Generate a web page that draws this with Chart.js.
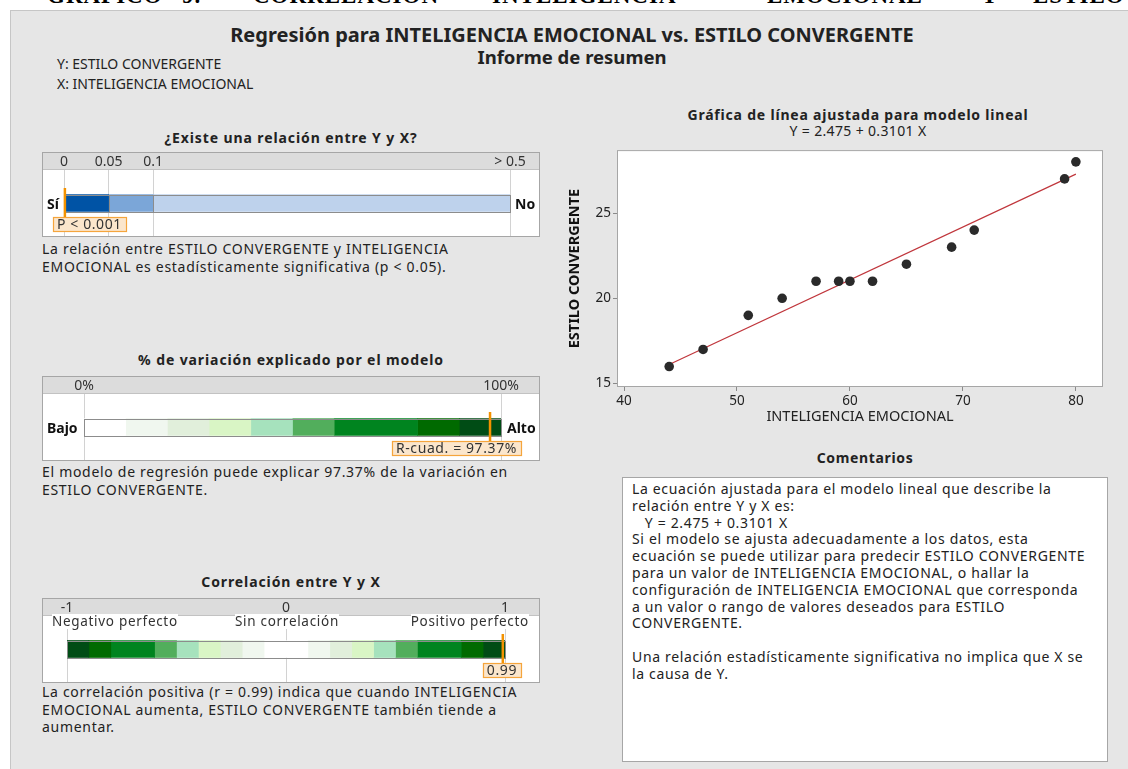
<!DOCTYPE html>
<html>
<head>
<meta charset="utf-8">
<script src="https://cdn.jsdelivr.net/npm/chart.js@4.4.1/dist/chart.umd.min.js"></script>
<style>
body { margin: 0; width: 1128px; height: 769px; overflow: hidden; background: #fff; position: relative;
       font-family: "Noto Sans", sans-serif; color: #222; }
.abs { position: absolute; white-space: nowrap; }
#panel { position: absolute; left: 10px; top: 10px; width: 1130px; height: 770px; background: #e6e6e6; border: 1px solid #c6c6c6; }
.cap { position: absolute; top: -17px; font: bold 23px "Liberation Serif", serif; letter-spacing: 1px; color: #000; }
.h { font-size: 14px; font-weight: bold; line-height: 18px; text-align: center; letter-spacing: 0.9px; }
.txt { font-size: 14px; line-height: 17.5px; color: #222; letter-spacing: 0.7px; }
.box { position: absolute; left: 42px; width: 496px; height: 83px; background: #fff; border: 1px solid #a6a6a6; }
.strip { position: absolute; left: 0; top: 0; width: 496px; height: 16px; background: #dcdcdc; border-bottom: 1px solid #c2c2c2; }
.side { font-size: 14px; font-weight: bold; line-height: 18px; color: #111; }
.lbl { font-size: 13.5px; line-height: 15px; background: #fff; color: #333; letter-spacing: 0.7px; }
canvas { position: absolute; }
#com { position: absolute; left: 622px; top: 477px; width: 484px; height: 283px; background: #fff; border: 1px solid #a6a6a6; }
#com div { position: absolute; left: 9px; top: 3px; font-size: 14px; line-height: 16.8px; white-space: pre; color: #222; letter-spacing: 0.65px; }
</style>
</head>
<body>
<span class="cap" style="left:47px">GRÁFICO</span>
<span class="cap" style="left:182px">9.</span>
<span class="cap" style="left:253px">CORRELACIÓN</span>
<span class="cap" style="left:492px">INTELIGENCIA</span>
<span class="cap" style="left:767px">EMOCIONAL</span>
<span class="cap" style="left:981px">Y</span>
<span class="cap" style="left:1033px">ESTILO</span>
<div id="panel"></div>

<div class="abs" style="left:0;width:1144px;top:23px;text-align:center;font-size:20px;font-weight:bold;line-height:24px;">Regresión para INTELIGENCIA EMOCIONAL vs. ESTILO CONVERGENTE</div>
<div class="abs" style="left:0;width:1144px;top:46px;text-align:center;font-size:18.5px;font-weight:bold;line-height:22px;">Informe de resumen</div>
<div class="abs" style="left:57px;top:54px;font-size:14px;line-height:20px;">Y: ESTILO CONVERGENTE<br>X: INTELIGENCIA EMOCIONAL</div>

<!-- ¿Existe una relación? -->
<div class="abs h" style="left:42px;width:498px;top:129px;">¿Existe una relación entre Y y X?</div>
<div class="box" style="top:152px"><div class="strip"></div></div>
<canvas id="pBar" width="496" height="83" style="left:43px;top:153px"></canvas>
<div class="abs side" style="left:47px;top:195px">Sí</div>
<div class="abs side" style="left:515px;top:195px">No</div>
<div class="abs txt" style="left:42px;top:240px">La relación entre ESTILO CONVERGENTE y INTELIGENCIA<br>EMOCIONAL es estadísticamente significativa (p &lt; 0.05).</div>

<!-- % de variación -->
<div class="abs h" style="left:42px;width:498px;top:351px;">% de variación explicado por el modelo</div>
<div class="box" style="top:376px"><div class="strip"></div></div>
<canvas id="r2Bar" width="496" height="83" style="left:43px;top:377px"></canvas>
<div class="abs side" style="left:47px;top:419px">Bajo</div>
<div class="abs side" style="left:507px;top:419px">Alto</div>
<div class="abs txt" style="left:42px;top:463px">El modelo de regresión puede explicar 97.37% de la variación en<br>ESTILO CONVERGENTE.</div>

<!-- Correlación -->
<div class="abs h" style="left:42px;width:498px;top:573px;">Correlación entre Y y X</div>
<div class="box" style="top:598px"><div class="strip"></div></div>
<canvas id="rBar" width="496" height="83" style="left:43px;top:599px"></canvas>
<div class="abs lbl" style="left:52px;top:614px">Negativo perfecto</div>
<div class="abs lbl" style="left:235px;top:614px">Sin correlación</div>
<div class="abs lbl" style="right:599px;top:614px">Positivo perfecto</div>
<div class="abs txt" style="left:42px;top:683px">La correlación positiva (r = 0.99) indica que cuando INTELIGENCIA<br>EMOCIONAL aumenta, ESTILO CONVERGENTE también tiende a<br>aumentar.</div>

<!-- gráfica de línea ajustada -->
<div class="abs h" style="left:620px;width:476px;top:106px;letter-spacing:0.8px;">Gráfica de línea ajustada para modelo lineal</div>
<div class="abs txt" style="left:620px;width:476px;top:122px;text-align:center;letter-spacing:0.35px;">Y = 2.475 + 0.3101 X</div>
<canvas id="fitChart" width="560" height="295" style="left:560px;top:140px"></canvas>

<div class="abs h" style="left:622px;width:486px;top:449px;letter-spacing:0.65px;">Comentarios</div>
<div id="com"><div>La ecuación ajustada para el modelo lineal que describe la
relación entre Y y X es:
   Y = 2.475 + 0.3101 X
Si el modelo se ajusta adecuadamente a los datos, esta
ecuación se puede utilizar para predecir ESTILO CONVERGENTE
para un valor de INTELIGENCIA EMOCIONAL, o hallar la
configuración de INTELIGENCIA EMOCIONAL que corresponda
a un valor o rango de valores deseados para ESTILO
CONVERGENTE.

Una relación estadísticamente significativa no implica que X se
la causa de Y.</div></div>

<script>
// ===== datos del gráfico de dispersión =====
const xEmocional = [44, 47, 51, 54, 57, 59, 60, 62, 65, 69, 71, 79, 80];
const yConvergente = [16, 17, 19, 20, 21, 21, 21, 21, 22, 23, 24, 27, 28];
const fitX = [44, 80];
const fitY = [16.12, 27.28];
const xTicks = [40, 50, 60, 70, 80];
const yTicks = [15, 20, 25];

// ===== valor p (escala de la barra: 0-0.05 = 1, 0.05-0.1 = 1, 0.1-0.5 = 8) =====
const pEdges = [0, 1, 2, 10];
const pColors = ['#0053a5', '#7ba6d8', '#bed2ec'];
const pTickPos = [0, 1, 2, 10];
const pTickLabels = ['0', '0.05', '0.1', '> 0.5'];
const pMarker = 0.02;
const pText = 'P < 0.001';

// ===== R cuadrado =====
const r2Edges = [0, 10, 20, 30, 40, 50, 60, 80, 90, 100];
const r2Colors = ['#ffffff', '#f0f7ef', '#e1efdb', '#d9f5c5', '#a6e2bd', '#52ae5c', '#00841f', '#006a00', '#004c15'];
const r2TickPos = [0, 100];
const r2TickLabels = ['0%', '100%'];
const r2Value = 97.37;
const r2Text = 'R-cuad. = 97.37%';

// ===== correlación =====
const rEdges = [-1, -0.9, -0.8, -0.6, -0.5, -0.4, -0.3, -0.2, -0.1, 0.1, 0.2, 0.3, 0.4, 0.5, 0.6, 0.8, 0.9, 1];
const rColors = ['#004c15', '#006a00', '#00841f', '#52ae5c', '#a6e2bd', '#d9f5c5', '#e1efdb', '#f0f7ef', '#ffffff',
                 '#f0f7ef', '#e1efdb', '#d9f5c5', '#a6e2bd', '#52ae5c', '#00841f', '#006a00', '#004c15'];
const rTickPos = [-1, 0, 1];
const rTickLabels = ['-1', '0', '1'];
const rValue = 0.99;
const rText = '0.99';

Chart.defaults.font.family = "'Noto Sans', sans-serif";
Chart.defaults.color = '#333';

// marcador naranja + contorno de la barra
function markerPlugin(value, text, segBorder) {
    return {
        id: 'marker',
        afterDatasetsDraw(chart) {
            const ctx = chart.ctx;
            const sx = chart.scales.x;
            const bar = chart.getDatasetMeta(0).data[0];
            const top = Math.round(bar.y - bar.height / 2), bot = Math.round(bar.y + bar.height / 2);
            const x0 = sx.getPixelForValue(sx.min), x1 = sx.getPixelForValue(sx.max);
            ctx.save();
            ctx.strokeStyle = '#8c8c8c';
            ctx.lineWidth = 1;
            ctx.strokeRect(Math.round(x0) + 0.5, top + 0.5, Math.round(x1 - x0), bot - top);
            if (segBorder) {
                pEdges.slice(1, -1).forEach(e => {
                    const xe = Math.round(sx.getPixelForValue(e)) + 0.5;
                    ctx.beginPath(); ctx.moveTo(xe, top); ctx.lineTo(xe, bot); ctx.stroke();
                });
            }
            const x = sx.getPixelForValue(value);
            ctx.strokeStyle = '#f39200';
            ctx.lineWidth = 2.5;
            ctx.beginPath(); ctx.moveTo(x, top - 7); ctx.lineTo(x, bot + 5); ctx.stroke();
            ctx.font = '14px "Noto Sans"';
            ctx.letterSpacing = '0.6px';
            const w = ctx.measureText(text).width + 8;
            let bx = Math.min(Math.max(x - w / 2, 10), chart.width - 18 - w);
            const by = bot + 5;
            ctx.fillStyle = '#fbe6cc';
            ctx.fillRect(bx, by, w, 15);
            ctx.strokeStyle = '#f5a53c';
            ctx.lineWidth = 1.2;
            ctx.strokeRect(Math.round(bx) + 0.5, by + 0.5, Math.round(w), 14);
            ctx.fillStyle = '#333';
            ctx.textBaseline = 'middle';
            ctx.fillText(text, bx + 4, by + 8);
            ctx.restore();
        }
    };
}

function gaugeChart(id, edges, colors, tickPos, tickLabels, padL, padR, value, text, segBorder) {
    return new Chart(document.getElementById(id), {
        type: 'bar',
        data: {
            labels: [''],
            datasets: colors.map((c, i) => ({
                data: [[edges[i], edges[i + 1]]],
                backgroundColor: c,
                borderWidth: 0,
                grouped: false,
                barThickness: 17
            }))
        },
        options: {
            indexAxis: 'y',
            animation: false,
            responsive: false,
            events: [],
            layout: { padding: { left: padL, right: padR, top: 0, bottom: 0 } },
            plugins: { legend: { display: false }, tooltip: { enabled: false } },
            scales: {
                x: {
                    position: 'top',
                    min: edges[0],
                    max: edges[edges.length - 1],
                    afterBuildTicks: s => { s.ticks = tickPos.map(v => ({ value: v })); },
                    afterFit: s => { s.height = 17; },
                    ticks: { autoSkip: false, maxRotation: 0, padding: 0, font: { size: 14 },
                             callback: (v, i) => tickLabels[i] },
                    grid: { color: '#d2d2d2', drawTicks: false },
                    border: { display: false }
                },
                y: { display: false }
            }
        },
        plugins: [markerPlugin(value, text, segBorder)]
    });
}

gaugeChart('pBar', pEdges, pColors, pTickPos, pTickLabels, 21, 29, pMarker, pText, true);
gaugeChart('r2Bar', r2Edges, r2Colors, r2TickPos, r2TickLabels, 41, 38, r2Value, r2Text, false);
gaugeChart('rBar', rEdges, rColors, rTickPos, rTickLabels, 24, 34, rValue, rText, false);

// ===== gráfica de línea ajustada =====
const plotFrame = {
    id: 'plotFrame',
    beforeDraw(chart) {
        const a = chart.chartArea, ctx = chart.ctx;
        ctx.save();
        ctx.fillStyle = '#fff';
        ctx.fillRect(a.left, a.top, a.right - a.left, a.bottom - a.top);
        ctx.restore();
    },
    afterDraw(chart) {
        const a = chart.chartArea, ctx = chart.ctx;
        ctx.save();
        ctx.strokeStyle = '#a6a6a6';
        ctx.lineWidth = 1;
        ctx.strokeRect(a.left + 0.5, a.top + 0.5, a.right - a.left - 1, a.bottom - a.top - 1);
        ctx.restore();
    }
};

new Chart(document.getElementById('fitChart'), {
    type: 'scatter',
    data: {
        datasets: [
            {
                data: xEmocional.map((x, i) => ({ x, y: yConvergente[i] })),
                backgroundColor: '#2a2a2a',
                borderWidth: 0,
                pointRadius: 4.8,
                order: 0
            },
            {
                type: 'line',
                data: fitX.map((x, i) => ({ x, y: fitY[i] })),
                borderColor: '#c0363c',
                borderWidth: 1.2,
                pointRadius: 0,
                fill: false,
                order: 1
            }
        ]
    },
    options: {
        animation: false,
        responsive: false,
        events: [],
        layout: { padding: { left: 0, top: 8, right: 17, bottom: 0 } },
        plugins: { legend: { display: false }, tooltip: { enabled: false } },
        scales: {
            x: {
                type: 'linear',
                min: 39.38,
                max: 82.4,
                afterBuildTicks: s => { s.ticks = xTicks.map(v => ({ value: v })); },
                afterFit: s => { s.height = 48; },
                ticks: { font: { size: 13.5 }, padding: 2, color: '#222' },
                grid: { drawOnChartArea: false, tickLength: 4, color: '#8a8a8a' },
                border: { display: false },
                title: { display: true, text: 'INTELIGENCIA EMOCIONAL', font: { size: 14.5 }, color: '#222',
                         padding: { top: 0, bottom: 9 } }
            },
            y: {
                min: 14.8,
                max: 28.69,
                afterBuildTicks: s => { s.ticks = yTicks.map(v => ({ value: v })); },
                afterFit: s => { s.width = 57; },
                ticks: { font: { size: 13.5 }, padding: 2, color: '#222' },
                grid: { drawOnChartArea: false, tickLength: 4, color: '#8a8a8a' },
                border: { display: false },
                title: { display: true, text: 'ESTILO CONVERGENTE', font: { size: 14.5, weight: 'bold' }, color: '#111',
                         padding: { top: 6, bottom: 0 } }
            }
        }
    },
    plugins: [plotFrame]
});
</script>
</body>
</html>
